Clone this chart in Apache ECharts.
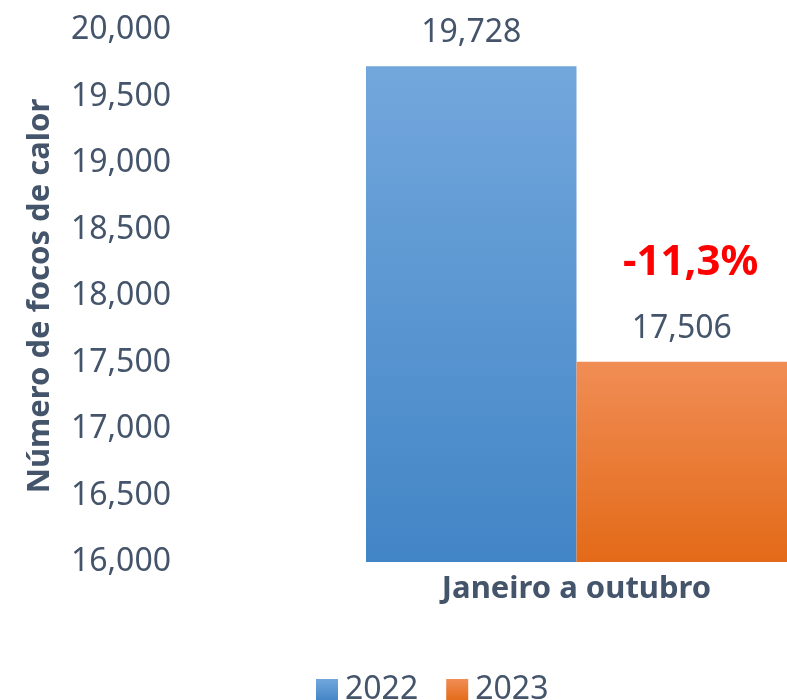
<!DOCTYPE html>
<html>
<head>
<meta charset="utf-8">
<script src="https://cdn.jsdelivr.net/npm/echarts@6/dist/echarts.min.js"></script>
<style>
  html, body { margin: 0; padding: 0; background: #fff; }
  #chart { width: 787px; height: 700px; }
</style>
</head>
<body>
<div id="chart"></div>
<script>
// 数据
const categories = ['Janeiro a outubro']
const years = ['2022', '2023']
const values2022 = [19728]
const values2023 = [17506]
const yTicks = [16000, 16500, 17000, 17500, 18000, 18500, 19000, 19500, 20000]

const textColor = '#44546A'
const font = 'Noto Sans'

// 变化百分比, 例如 -11,3%
const pct = ((values2023[0] - values2022[0]) / values2022[0] * 100).toFixed(1).replace('.', ',') + '%'

const fmt = v => v.toLocaleString('en-US')

const chart = echarts.init(document.getElementById('chart'))
chart.setOption({
  animation: false,
  textStyle: {fontFamily: font},
  grid: {
    left: 366,
    right: -3,
    top: 30,
    bottom: 138
  },
  legend: {
    data: years,
    left: 311,
    top: 669,
    itemWidth: 22,
    itemHeight: 22,
    itemGap: 28,
    icon: 'rect',
    textStyle: {fontSize: 32, color: textColor, fontFamily: font, padding: [0, 0, 0, 2]}
  },
  xAxis: {
    type: 'category',
    data: categories,
    axisLine: {show: false},
    axisTick: {show: false},
    axisLabel: {
      margin: 12,
      fontSize: 31,
      fontWeight: 'bold',
      color: textColor,
      fontFamily: font
    }
  },
  yAxis: {
    type: 'value',
    min: yTicks[0],
    max: yTicks[yTicks.length - 1],
    interval: 500,
    splitLine: {show: false},
    axisLine: {show: false},
    axisTick: {show: false},
    axisLabel: {
      margin: 195,
      fontSize: 32,
      color: textColor,
      fontFamily: font,
      formatter: v => fmt(v)
    },
    name: 'Número de focos de calor',
    nameLocation: 'middle',
    nameRotate: 90,
    nameGap: 310,
    nameTextStyle: {fontSize: 31, fontWeight: 'bold', color: textColor, fontFamily: font}
  },
  series: [
    {
      name: years[0],
      type: 'bar',
      data: values2022,
      barWidth: '50%',
      barGap: 0,
      itemStyle: {
        color: new echarts.graphic.LinearGradient(0, 0, 0, 1, [
          {offset: 0, color: '#72A7DC'},
          {offset: 1, color: '#4285C6'}
        ])
      },
      label: {
        show: true,
        position: 'top',
        distance: 10,
        fontSize: 32,
        lineHeight: 46,
        color: textColor,
        fontFamily: font,
        formatter: p => fmt(p.value)
      }
    },
    {
      name: years[1],
      type: 'bar',
      data: values2023,
      barWidth: '50%',
      itemStyle: {
        color: new echarts.graphic.LinearGradient(0, 0, 0, 1, [
          {offset: 0, color: '#F08D55'},
          {offset: 1, color: '#E36A18'}
        ])
      },
      label: {
        show: true,
        position: 'top',
        distance: 10,
        formatter: p => '{pct|' + pct + '}\n{val|' + fmt(p.value) + '}',
        rich: {
          pct: {fontSize: 42, fontWeight: 'bold', color: '#FF0000', lineHeight: 86, padding: [0, 0, 0, 18], fontFamily: font},
          val: {fontSize: 32, color: textColor, lineHeight: 46, fontFamily: font}
        }
      }
    }
  ]
})
</script>
</body>
</html>
